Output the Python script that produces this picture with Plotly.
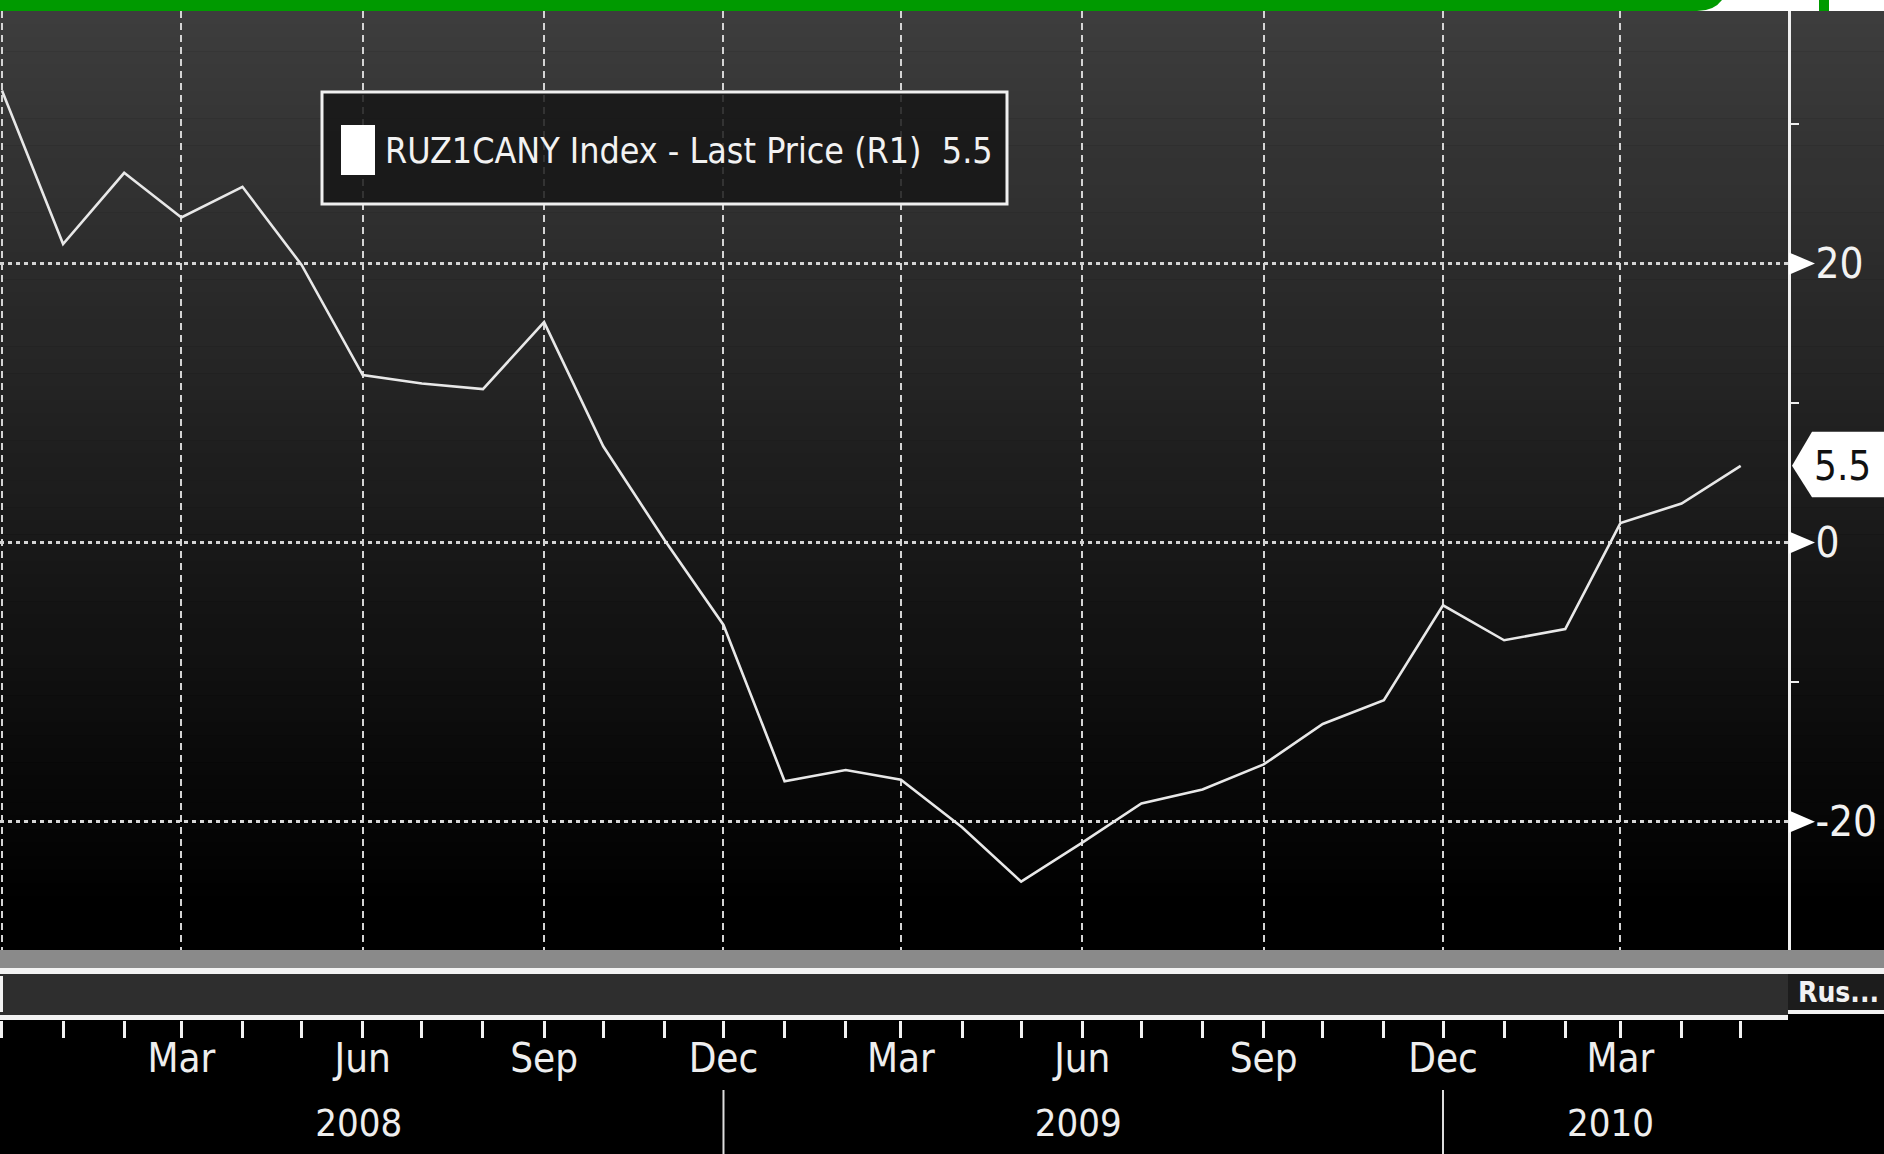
import plotly.graph_objects as go
import pandas as pd

W, H = 1884, 1154

# ---------------- data ----------------
dates = list(pd.date_range("2007-12-01", "2010-05-01", freq="MS"))
values = [32.4, 21.4, 26.5, 23.3, 25.5, 19.9, 12.0, 11.4, 11.0, 15.8,
          6.9, 0.2, -5.9, -17.1, -16.3, -17.0, -20.4, -24.3, -21.5, -18.7,
          -17.7, -15.9, -13.0, -11.3, -4.5, -7.0, -6.2, 1.4, 2.8, 5.5]
series_name = "RUZ1CANY Index - Last Price (R1)"
last_value = values[-1]

quarter_names = {3: "Mar", 6: "Jun", 9: "Sep", 12: "Dec"}
month_tick_labels = [quarter_names.get(d.month, "") if d != dates[0] else "" for d in dates]
grid_dates = [d for d in dates if d.month in quarter_names]
year_tick_dates = ["2008-05-30", "2009-05-30", "2010-02-24"]
year_tick_labels = ["2008", "2009", "2010"]
year_sep_dates = ["2008-12-01", "2009-12-01"]
y_tick_vals = [-20, 0, 20]
y_tick_text = ["-20", "0", "20"]
y_minor_vals = [-10, 10, 30]
x_range = ["2007-11-30", "2010-05-25"]
y_range = [-29.2, 38.1]

FONT = ("Liberation Sans Narrow, Arial Narrow, DejaVu Sans Condensed, Open Sans Condensed, "
        "Roboto Condensed, Noto Sans Condensed, Liberation Sans, Arial, sans-serif")


def px(x):
    return x / W


def py(y):
    return 1 - y / H


fig = go.Figure()
fig.add_trace(go.Scatter(x=dates, y=values, mode="lines",
                         line=dict(color="#e8e8e8", width=2.6),
                         showlegend=False, hoverinfo="x+y"))
# helper traces so the extra tick axes are drawn
for ax in ("x2", "x3"):
    fig.add_trace(go.Scatter(x=dates, y=values, xaxis=ax, yaxis="y", mode="lines",
                             line=dict(width=0), opacity=0, showlegend=False,
                             hoverinfo="skip"))

shapes = []
# top strip
shapes.append(dict(type="rect", xref="paper", yref="paper", x0=0, x1=1,
                   y0=py(11), y1=1, fillcolor="white", line=dict(width=0), layer="below"))
shapes.append(dict(type="path", xref="paper", yref="paper",
                   path=f"M 0,{py(0)} L {px(1722)},{py(0)} Q {px(1714)},{py(11)} {px(1697)},{py(11)} L 0,{py(11)} Z",
                   fillcolor="#009a00", line=dict(width=0), layer="below"))
shapes.append(dict(type="rect", xref="paper", yref="paper", x0=px(1819), x1=px(1829),
                   y0=py(11), y1=1, fillcolor="#009a00", line=dict(width=0), layer="below"))
# gradient background
top, bot = 11, 950
n = 70
for i in range(n):
    y0 = top + (bot - top) * i / n
    y1 = top + (bot - top) * (i + 1) / n
    t = (y0 + y1) / 2
    g = max(0, round(61 * (1 - (t - top) / (905 - top))))
    shapes.append(dict(type="rect", xref="paper", yref="paper", x0=0, x1=1,
                       y0=py(y1 + 0.5), y1=py(y0), fillcolor=f"rgb({g},{g},{g})",
                       line=dict(width=0), layer="below"))
# bottom scroll bars
shapes += [
    dict(type="rect", xref="paper", yref="paper", x0=0, x1=1, y0=py(968), y1=py(950),
         fillcolor="#8a8a8a", line=dict(width=0), layer="below"),
    dict(type="rect", xref="paper", yref="paper", x0=0, x1=1, y0=py(974), y1=py(968),
         fillcolor="#f2f2f2", line=dict(width=0), layer="below"),
    dict(type="rect", xref="paper", yref="paper", x0=0, x1=px(1788), y0=py(1015), y1=py(974),
         fillcolor="#2e2e2e", line=dict(width=0), layer="below"),
    dict(type="rect", xref="paper", yref="paper", x0=px(1788), x1=1, y0=py(1010), y1=py(974),
         fillcolor="#1c1c1c", line=dict(width=0), layer="below"),
    dict(type="rect", xref="paper", yref="paper", x0=0, x1=px(1788), y0=py(1020), y1=py(1015),
         fillcolor="#f2f2f2", line=dict(width=0), layer="below"),
    dict(type="rect", xref="paper", yref="paper", x0=px(1788), x1=1, y0=py(1014), y1=py(1010),
         fillcolor="#f2f2f2", line=dict(width=0), layer="below"),
    dict(type="rect", xref="paper", yref="paper", x0=0, x1=px(3), y0=py(1012), y1=py(976),
         fillcolor="#f2f2f2", line=dict(width=0), layer="below"),
]
# year separators
for d in year_sep_dates:
    shapes.append(dict(type="line", xref="x", yref="paper", x0=d, x1=d, y0=py(1154), y1=py(1090),
                       line=dict(color="#dddddd", width=2)))
# legend box
shapes.append(dict(type="rect", xref="paper", yref="paper", x0=px(322), x1=px(1007),
                   y0=py(204), y1=py(92), fillcolor="rgba(22,22,22,0.85)",
                   line=dict(color="#f0f0f0", width=3)))
shapes.append(dict(type="rect", xref="paper", yref="paper", x0=px(341), x1=px(375),
                   y0=py(175), y1=py(125), fillcolor="white", line=dict(width=0)))
# tick triangles on the right axis
d_unit = 0.8
for v in y_tick_vals:
    shapes.append(dict(type="path", xref="paper", yref="y",
                       path=f"M {px(1789)},{v + d_unit} L {px(1815)},{v} L {px(1789)},{v - d_unit} Z",
                       fillcolor="white", line=dict(width=0)))
# last value tag
tag_up, tag_dn = 2.45, 2.25
shapes.append(dict(type="path", xref="paper", yref="y",
                   path=(f"M {px(1792)},{last_value} L {px(1812)},{last_value + tag_up} "
                         f"L 1,{last_value + tag_up} L 1,{last_value - tag_dn} "
                         f"L {px(1812)},{last_value - tag_dn} Z"),
                   fillcolor="white", line=dict(width=0)))

annotations = [
    dict(xref="paper", yref="paper", x=px(383), y=py(150), xanchor="left", yanchor="middle",
         text=f"{series_name}  {last_value}", showarrow=False,
         font=dict(family=FONT, size=35.5, color="#f2f2f2")),
    dict(xref="paper", yref="y", x=px(1812), y=last_value, xanchor="left", yanchor="middle",
         text=f"{last_value}", showarrow=False,
         font=dict(family=FONT, size=40, color="#111111")),
    dict(xref="paper", yref="paper", x=px(1796), y=py(992), xanchor="left", yanchor="middle",
         text="<b>Rus...</b>", showarrow=False,
         font=dict(family=FONT, size=28, color="#f2f2f2")),
]

dom_x = [0, px(1788)]
fig.update_layout(
    width=W, height=H, autosize=False,
    margin=dict(l=0, r=0, t=0, b=0, pad=0, autoexpand=False),
    paper_bgcolor="black", plot_bgcolor="rgba(0,0,0,0)",
    showlegend=False,
    shapes=shapes, annotations=annotations,
    xaxis=dict(domain=dom_x, type="date", range=x_range, anchor="y", automargin=False,
               tickmode="array", tickvals=grid_dates, showticklabels=False, ticks="",
               showgrid=True, gridcolor="#d4d4d4", gridwidth=2, griddash="7px,5px",
               zeroline=False, showline=False, fixedrange=True),
    xaxis2=dict(overlaying="x", type="date", range=x_range, anchor="free", automargin=False,
                position=py(1020), side="bottom",
                tickmode="array", tickvals=dates, ticktext=month_tick_labels,
                ticks="outside", ticklen=17, tickwidth=3, tickcolor="#f2f2f2",
                ticklabelstandoff=-14,
                tickfont=dict(family=FONT, size=40, color="#eeeeee"),
                showgrid=False, zeroline=False, showline=False, fixedrange=True),
    xaxis3=dict(overlaying="x", type="date", range=x_range, anchor="free", automargin=False,
                position=py(1097), side="bottom",
                tickmode="array", tickvals=year_tick_dates, ticktext=year_tick_labels,
                ticks="", tickfont=dict(family=FONT, size=38, color="#eeeeee"),
                showgrid=False, zeroline=False, showline=False, fixedrange=True),
    yaxis=dict(domain=[py(950), py(11)], range=y_range, side="right", anchor="x",
               automargin=False,
               tickmode="array", tickvals=y_tick_vals, ticktext=y_tick_text,
               ticks="outside", ticklen=16, tickcolor="rgba(0,0,0,0)",
               tickfont=dict(family=FONT, size=42, color="#f2f2f2"),
               showline=True, linecolor="#f0f0f0", linewidth=3,
               showgrid=True, gridcolor="#d4d4d4", gridwidth=2.5, griddash="4px,4px",
               zeroline=False, fixedrange=True,
               minor=dict(tickmode="array", tickvals=y_minor_vals, ticks="outside",
                          ticklen=8, tickwidth=2, tickcolor="#f0f0f0", showgrid=False)),
)

fig.write_html("out.html", config={"displayModeBar": False},
               post_script="document.body.style.margin='0';document.body.style.overflow='hidden';")
